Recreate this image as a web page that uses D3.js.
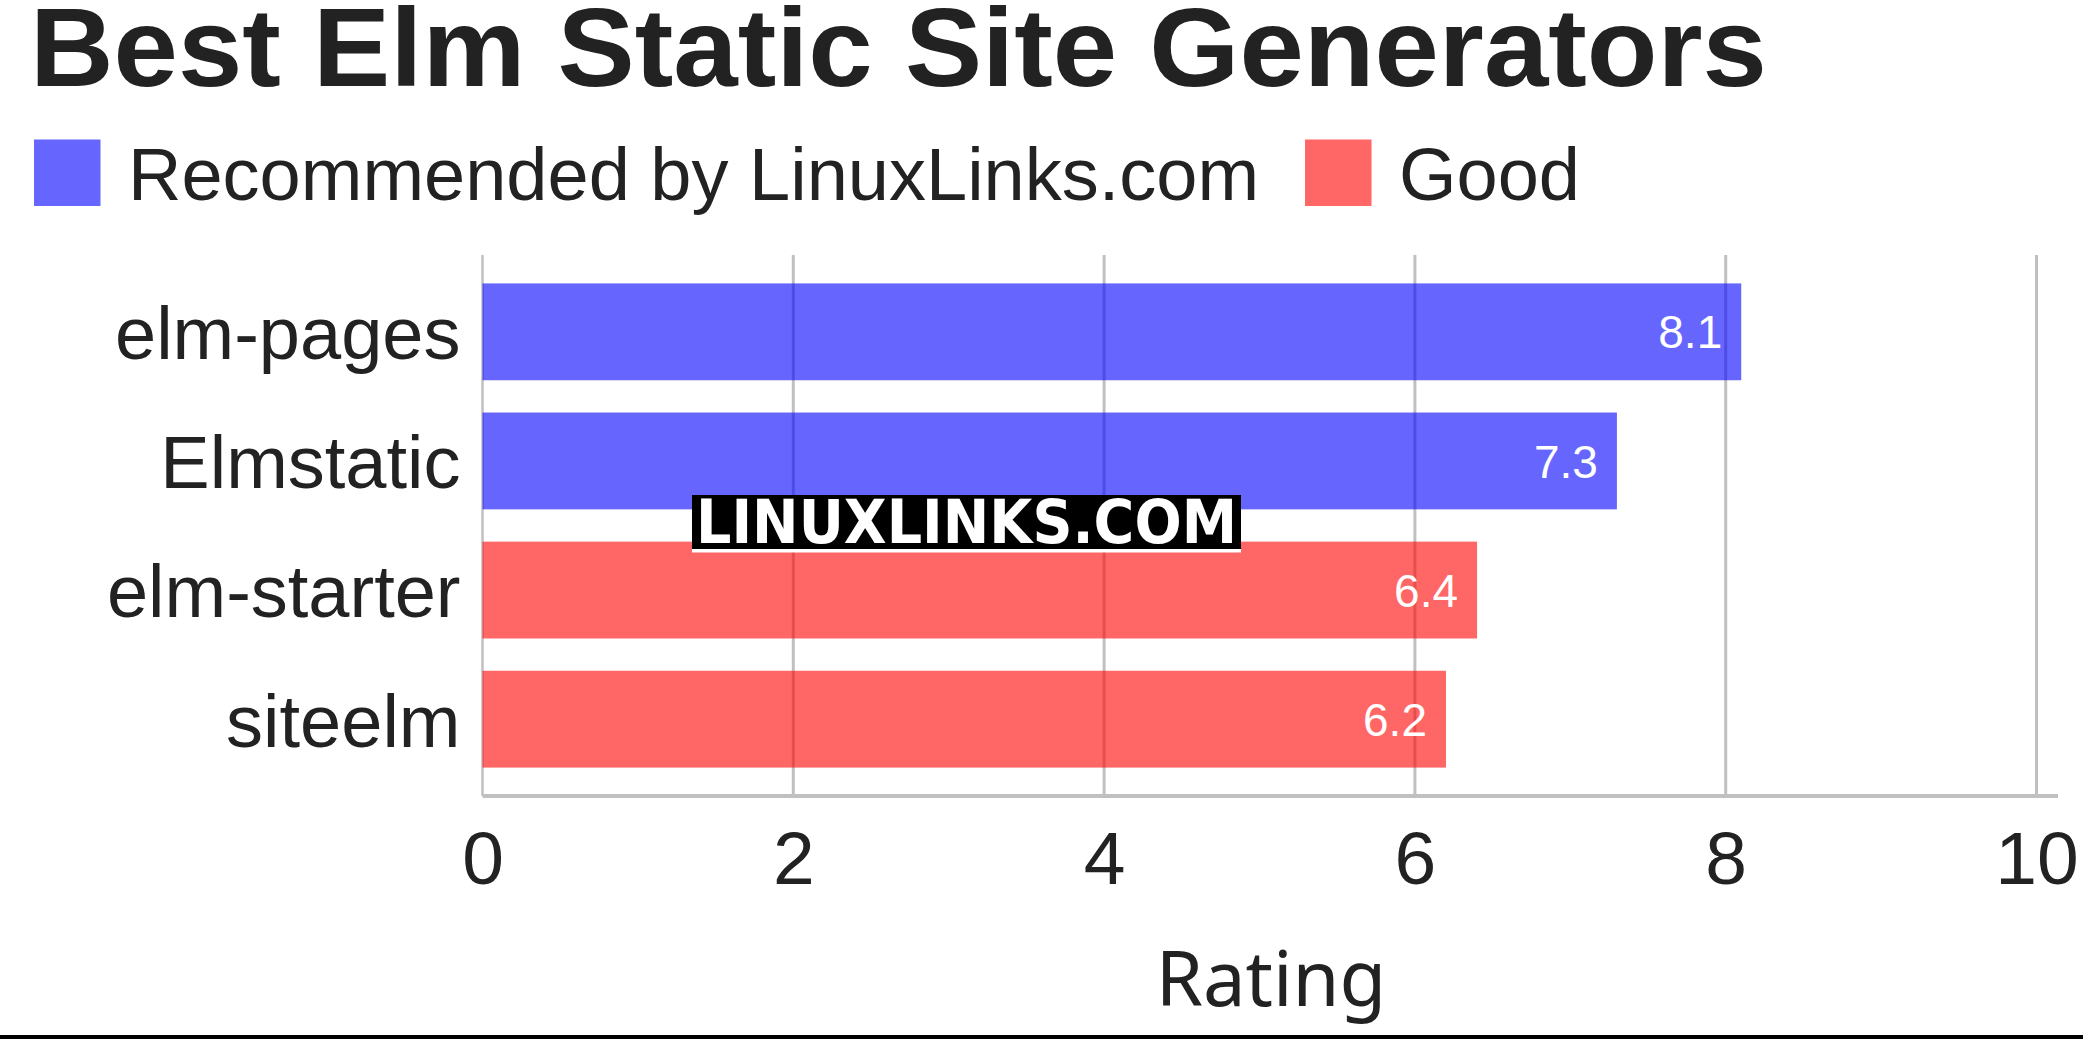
<!DOCTYPE html>
<html>
<head>
<meta charset="utf-8">
<script src="https://cdn.jsdelivr.net/npm/d3@7"></script>
<style>
  html, body { margin: 0; padding: 0; background: #fff; }
  svg { display: block; }
</style>
</head>
<body>
<svg id="chart" width="2083" height="1039"></svg>
<script>
const title = "Best Elm Static Site Generators";
const categories = ["elm-pages", "Elmstatic", "elm-starter", "siteelm"];
const ratings = [8.1, 7.3, 6.4, 6.2];
const groups = ["Recommended by LinuxLinks.com", "Recommended by LinuxLinks.com", "Good", "Good"];
const legendLabels = ["Recommended by LinuxLinks.com", "Good"];
const legendColors = ["#0000ff", "#ff0000"];
const xTicks = [0, 2, 4, 6, 8, 10];
const xAxisTitle = "Rating";
const watermark = "LINUXLINKS.COM";

const svg = d3.select("#chart");
const W = 2083, H = 1039;
const plot = { left: 482.5, right: 2036.5, top: 255, bottom: 796 };

const x = d3.scaleLinear().domain([0, 10]).range([plot.left, plot.right]);
const y = d3.scaleBand().domain(categories).range([plot.top, plot.bottom])
  .paddingInner(0.25).paddingOuter(0.22);
const color = d3.scaleOrdinal().domain(legendLabels).range(legendColors);
const markOpacity = 0.6;

svg.append("rect").attr("width", W).attr("height", H).attr("fill", "#fff");

// Title
svg.append("text").attr("x", 30).attr("y", 86)
  .attr("font-family", "Liberation Sans, Arial, sans-serif")
  .attr("font-weight", "bold").attr("font-size", 111)
  .attr("textLength", 1737).attr("lengthAdjust", "spacingAndGlyphs")
  .attr("fill", "#222").text(title);

// Legend
const legendItems = [
  { label: legendLabels[0], x: 34 },
  { label: legendLabels[1], x: 1305 }
];
const lg = svg.append("g");
legendItems.forEach(d => {
  lg.append("rect").attr("x", d.x).attr("y", 139.5).attr("width", 66.5).attr("height", 66.5)
    .attr("fill", color(d.label)).attr("fill-opacity", markOpacity);
  lg.append("text").attr("x", d.x + 94).attr("y", 200)
    .attr("font-family", "Liberation Sans, Arial, sans-serif")
    .attr("font-size", 74).attr("fill", "#222").text(d.label);
});

// Gridlines
svg.append("g").selectAll("line").data(xTicks.filter(t => t > 0)).join("line")
  .attr("x1", d => x(d)).attr("x2", d => x(d))
  .attr("y1", plot.top).attr("y2", plot.bottom)
  .attr("stroke", "#c0c0c0").attr("stroke-width", 3);

// Left axis line
svg.append("line").attr("x1", x(0)).attr("x2", x(0))
  .attr("y1", plot.top).attr("y2", plot.bottom)
  .attr("stroke", "#c0c0c0").attr("stroke-width", 2.5);

// Bars (translucent so gridlines show through)
svg.append("g").selectAll("rect").data(categories).join("rect")
  .attr("x", x(0))
  .attr("y", d => y(d))
  .attr("width", (d, i) => x(ratings[i]) - x(0))
  .attr("height", y.bandwidth())
  .attr("fill", (d, i) => color(groups[i]))
  .attr("fill-opacity", markOpacity);

// Value labels
svg.append("g").selectAll("text").data(categories).join("text")
  .attr("x", (d, i) => x(ratings[i]) - 19)
  .attr("y", d => y(d) + y.bandwidth() / 2)
  .attr("dy", "0.36em")
  .attr("text-anchor", "end")
  .attr("font-family", "Liberation Sans, Arial, sans-serif")
  .attr("font-size", 46).attr("fill", "#fff")
  .text((d, i) => ratings[i].toFixed(1));

// Bottom axis line
svg.append("line").attr("x1", x(0)).attr("x2", 2058)
  .attr("y1", plot.bottom).attr("y2", plot.bottom)
  .attr("stroke", "#c0c0c0").attr("stroke-width", 4);

// Y category labels via axis
const yAxis = svg.append("g").attr("transform", `translate(${x(0) - 22},0)`)
  .call(d3.axisLeft(y).tickSize(0).tickPadding(0));
yAxis.select(".domain").remove();
yAxis.selectAll("text")
  .attr("font-family", "Liberation Sans, Arial, sans-serif")
  .attr("font-size", 74).attr("fill", "#222").attr("dy", "0.37em");

// X tick labels via axis
const xAxis = svg.append("g").attr("transform", `translate(0,${plot.bottom})`)
  .call(d3.axisBottom(x).tickValues(xTicks).tickSize(0).tickPadding(0).tickFormat(d3.format("d")));
xAxis.select(".domain").remove();
xAxis.selectAll("text")
  .attr("font-family", "Liberation Sans, Arial, sans-serif")
  .attr("font-size", 75).attr("fill", "#222")
  .attr("dy", null).attr("y", 88);

// X axis title
svg.append("text").attr("x", 1271).attr("y", 1006)
  .attr("text-anchor", "middle")
  .attr("font-family", "Noto Sans, Open Sans, sans-serif")
  .attr("font-size", 76).attr("fill", "#222").text(xAxisTitle);

// Watermark
const wm = svg.append("g");
wm.append("rect").attr("x", 692).attr("y", 495).attr("width", 549).attr("height", 57.5)
  .attr("fill", "#fff");
wm.append("rect").attr("x", 692).attr("y", 495).attr("width", 549).attr("height", 54)
  .attr("fill", "#000");
wm.append("text").attr("x", 696).attr("y", 542.5)
  .attr("font-family", "DejaVu Sans, sans-serif").attr("font-weight", "bold")
  .attr("font-size", 61).attr("fill", "#fff")
  .attr("textLength", 541).attr("lengthAdjust", "spacingAndGlyphs")
  .text(watermark);

// Bottom black rule
svg.append("rect").attr("x", 0).attr("y", 1035).attr("width", W).attr("height", 4).attr("fill", "#000");
</script>
</body>
</html>
